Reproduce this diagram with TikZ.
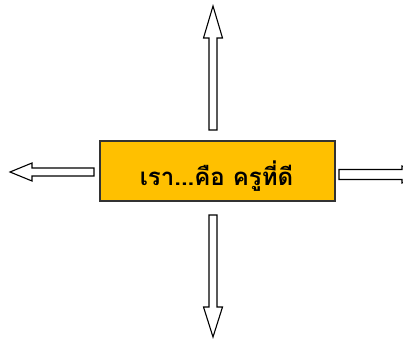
\documentclass[tikz,border=0pt]{standalone}
\usepackage{fontspec}
\newfontfamily\thaifont[Script=Thai]{Loma}
\usetikzlibrary{positioning}
\definecolor{boxgold}{HTML}{FFC000}
\tikzset{
  blockarrow/.style={draw=black, line width=1.1pt, fill=white, line join=miter},
  titlebox/.style={draw=black!80, line width=1.2pt, fill=boxgold, minimum width=235pt, minimum height=60pt, inner sep=0pt},
  mottotext/.style={font=\thaifont\bfseries\fontsize{24}{28}\selectfont, inner sep=0pt, anchor=base}
}
\begin{document}
\begin{tikzpicture}[x=1pt,y=-1pt]
			\useasboundingbox (0,0) rectangle (403,339);
			\clip (0,0) rectangle (403,339);
			
			% Central box
			\node[titlebox] (teacher) at (217.5,171) {};
			\node[mottotext] (motto) at (216.5,185) {เรา...คือ ครูที่ดี};
			
			% Up arrow
			\draw[blockarrow] (209,130) -- (217,130) -- (217,38) -- (222.5,38) -- (213,6) -- (203.5,38) -- (209,38) -- cycle;
			
			% Down arrow
			\draw[blockarrow] (209,215) -- (217,215) -- (217,307) -- (222.5,307) -- (213,337) -- (203.5,307) -- (209,307) -- cycle;
			
			% Left arrow
			\draw[blockarrow] (94,168) -- (94,176) -- (32,176) -- (32,181) -- (10,172) -- (32,163) -- (32,168) -- cycle;
			
			% Right arrow (cut at the edge)
			\draw[blockarrow] (339,169.5) -- (339,179.5) -- (402,179.5) -- (402,183) -- (425,174.5) -- (402,166) -- (402,169.5) -- cycle;
		\end{tikzpicture}
\end{document}
